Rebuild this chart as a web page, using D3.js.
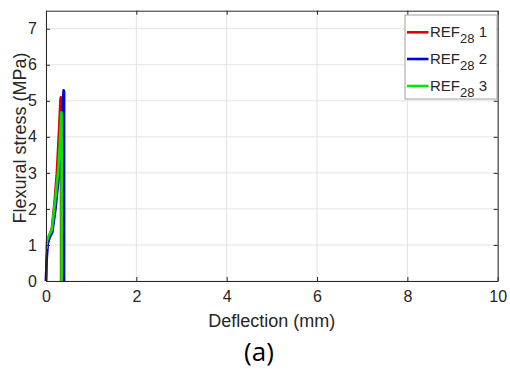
<!DOCTYPE html>
<html>
<head>
<meta charset="utf-8">
<script src="https://cdn.jsdelivr.net/npm/d3@7"></script>
<style>
  html, body { margin: 0; padding: 0; background: #fff; }
  svg { display: block; }
</style>
</head>
<body>
<svg id="chart" width="510" height="369"></svg>
<script>
// Flexural stress vs deflection, REF28 specimens
const seriesNames = ['1', '2', '3'];
const seriesColors = ['#e00000', '#0000e6', '#00e600'];

const ref1X = [0, 0.02, 0.06, 0.13, 0.19, 0.24, 0.29, 0.32, 0.33, 0.335];
const ref1Y = [0, 0.9, 1.2, 1.45, 2.2, 3.0, 4.2, 5.05, 5.1, 0];

const ref2X = [0, 0.01, 0.04, 0.08, 0.14, 0.21, 0.29, 0.34, 0.37, 0.39, 0.40, 0.40];
const ref2Y = [0, 0.5, 1.05, 1.2, 1.35, 2.0, 3.0, 4.0, 4.9, 5.29, 5.25, 0];

const ref3X = [0.01, 0.02, 0.06, 0.13, 0.2, 0.27, 0.31, 0.34, 0.345, 0.345];
const ref3Y = [0.9, 1.1, 1.25, 1.42, 2.2, 3.05, 3.9, 4.68, 4.6, 0];

const xTicks = [0, 2, 4, 6, 8, 10];
const yTicks = [0, 1, 2, 3, 4, 5, 6, 7];

const series = [
  { name: seriesNames[0], xs: ref1X, ys: ref1Y, color: seriesColors[0] },
  { name: seriesNames[1], xs: ref2X, ys: ref2Y, color: seriesColors[1] },
  { name: seriesNames[2], xs: ref3X, ys: ref3Y, color: seriesColors[2] }
];

const svg = d3.select('#chart');
const font = '"Liberation Sans", Arial, sans-serif';
const axisColor = '#262626';

const x = d3.scaleLinear().domain([0, 10]).range([46, 497.7]);
const y = d3.scaleLinear().domain([0, 7.5]).range([281, 10.7]);

const [x0, x1] = x.range();
const [y0, y1] = y.range();

// grid
const grid = svg.append('g').attr('stroke', '#e3e3e3').attr('stroke-width', 1);
grid.selectAll('line.gx').data(xTicks).join('line')
  .attr('x1', d => x(d)).attr('x2', d => x(d))
  .attr('y1', y0).attr('y2', y1);
grid.selectAll('line.gy').data(yTicks).join('line')
  .attr('x1', x0).attr('x2', x1)
  .attr('y1', d => y(d)).attr('y2', d => y(d));

// data lines
const line = d3.line().x(d => x(d[0])).y(d => y(d[1]));
svg.append('g').selectAll('path').data(series).join('path')
  .attr('d', s => line(s.xs.map((v, i) => [v, s.ys[i]])))
  .attr('fill', 'none')
  .attr('stroke', s => s.color)
  .attr('stroke-width', 2.6)
  .attr('stroke-linejoin', 'round');

// axes (MATLAB style, ticks inward, box on)
const xAxis = d3.axisBottom(x).tickValues(xTicks).tickSizeInner(-4).tickSizeOuter(0).tickPadding(10);
const yAxis = d3.axisLeft(y).tickValues(yTicks).tickSizeInner(-4).tickSizeOuter(0).tickPadding(9);
const xTop = d3.axisTop(x).tickValues(xTicks).tickSizeInner(-4).tickSizeOuter(0).tickFormat('');
const yRight = d3.axisRight(y).tickValues(yTicks).tickSizeInner(-4).tickSizeOuter(0).tickFormat('');

const gx = svg.append('g').attr('transform', `translate(0,${y0})`).call(xAxis);
const gy = svg.append('g').attr('transform', `translate(${x0},0)`).call(yAxis);
svg.append('g').attr('transform', `translate(0,${y1})`).call(xTop);
svg.append('g').attr('transform', `translate(${x1},0)`).call(yRight);

svg.selectAll('.domain').attr('stroke', axisColor);
svg.selectAll('.tick line').attr('stroke', axisColor);
svg.selectAll('.tick text')
  .attr('fill', axisColor)
  .style('font-family', font)
  .style('font-size', '16px');

// axis titles
svg.append('text')
  .attr('x', (x0 + x1) / 2).attr('y', 327)
  .attr('text-anchor', 'middle')
  .attr('fill', axisColor)
  .style('font-family', font).style('font-size', '18px')
  .text('Deflection (mm)');

svg.append('text')
  .attr('transform', 'translate(26,138) rotate(-90)')
  .attr('text-anchor', 'middle')
  .attr('fill', axisColor)
  .style('font-family', font).style('font-size', '18px')
  .text('Flexural stress (MPa)');

// legend
const legend = svg.append('g');
legend.append('rect')
  .attr('x', 405).attr('y', 15)
  .attr('width', 92).attr('height', 84)
  .attr('fill', '#fff')
  .attr('stroke', '#a0a0a0');

const rowY = [32.3, 59, 86];
const items = legend.selectAll('g.item').data(series).join('g')
  .attr('transform', (d, i) => `translate(0,${rowY[i]})`);
items.append('line')
  .attr('x1', 407).attr('x2', 428.5)
  .attr('stroke', d => d.color).attr('stroke-width', 2.6);
const txt = items.append('text')
  .attr('x', 430).attr('y', 5)
  .attr('fill', axisColor)
  .style('font-family', font).style('font-size', '15px');
txt.append('tspan').text('REF');
txt.append('tspan').attr('dy', 6).style('font-size', '13px').text('28');
txt.append('tspan').attr('dy', -6).text(d => '\u00a0' + d.name);

// panel label
svg.append('text')
  .attr('x', 259).attr('y', 361)
  .attr('text-anchor', 'middle')
  .attr('fill', '#000')
  .style('font-family', '"Open Sans", sans-serif').style('font-size', '26px')
  .text('(a)');
</script>
</body>
</html>
